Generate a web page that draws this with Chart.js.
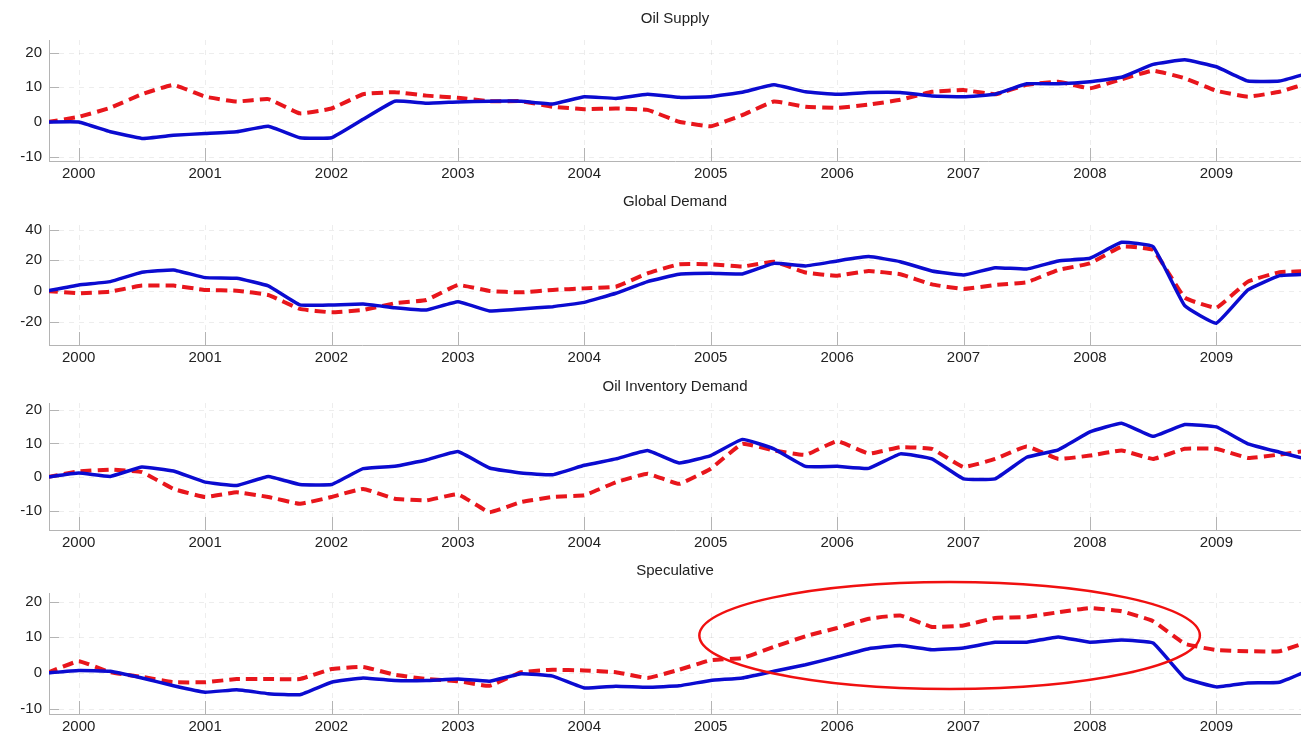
<!DOCTYPE html>
<html>
<head>
<meta charset="utf-8">
<script src="https://cdn.jsdelivr.net/npm/chart.js@4/dist/chart.umd.min.js"></script>
<style>
    body { margin: 0; background: #fff; }
    .panel { position: absolute; left: 0; width: 1301px; }
</style>
</head>
<body>
<div class="panel" style="top:0;height:185px"><canvas id="supplyChart"></canvas></div>
<div class="panel" style="top:185px;height:185px"><canvas id="demandChart"></canvas></div>
<div class="panel" style="top:370px;height:183px"><canvas id="inventoryChart"></canvas></div>
<div class="panel" style="top:553px;height:185px"><canvas id="speculativeChart"></canvas></div>
<script>
// quarterly dates, 1999Q4 .. 2009Q4
var quarters = [1999.75,
    2000, 2000.25, 2000.5, 2000.75, 2001, 2001.25, 2001.5, 2001.75,
    2002, 2002.25, 2002.5, 2002.75, 2003, 2003.25, 2003.5, 2003.75,
    2004, 2004.25, 2004.5, 2004.75, 2005, 2005.25, 2005.5, 2005.75,
    2006, 2006.25, 2006.5, 2006.75, 2007, 2007.25, 2007.5, 2007.75,
    2008, 2008.25, 2008.5, 2008.75, 2009, 2009.25, 2009.5, 2009.75]

var yearTicks = [2000, 2001, 2002, 2003, 2004, 2005, 2006, 2007, 2008, 2009]

// solid blue = actual, dashed red = model
var supplyActual = [0, 0, -2.8, -4.7, -3.8, -3.3, -2.8, -1.2, -4.5, -4.5, 0.8, 6, 5.4, 5.8, 6, 6, 5.2, 7.3, 6.8, 8, 7.1,
    7.3, 8.6, 10.7, 8.7, 8, 8.5, 8.5, 7.5, 7.3, 8, 11, 11, 11.6, 12.9, 16.6, 17.9, 15.9, 11.8, 11.8, 14.3]
var supplyModel = [0, 1.5, 4.1, 8, 10.7, 7.3, 5.9, 6.6, 2.5, 3.9, 8, 8.6, 7.6, 7, 6, 6, 4.4, 3.7, 3.9, 3.5, 0.1,
    -1.2, 2, 5.9, 4.4, 4.1, 5, 6.4, 8.7, 9.2, 8, 10.7, 11.6, 9.7, 12.3, 14.8, 12.6, 9, 7.3, 8.7, 11.5]

var demandActual = [0, 3.9, 6.1, 12.2, 13.7, 8.7, 8.3, 3.3, -9.1, -9.1, -8.5, -10.9, -12.4, -7, -13, -11.7, -10.2, -7.4, -1.5, 6.1, 10.9,
    11.5, 11.1, 18, 16.3, 19.6, 22.4, 19.1, 13, 10.4, 15.2, 14.3, 19.6, 21.3, 31.7, 28.9, -9.6, -21, 0.7, 10, 11]
var demandModel = [0, -1.5, -0.4, 3.5, 3.5, 0.7, 0.2, -2.6, -11.7, -13.9, -12.4, -8, -5.9, 3.9, 0, -0.9, 0.7, 1.7, 2.8, 11.5, 17.4,
    17.4, 15.9, 19.1, 12, 10, 13, 10.9, 4.3, 1.3, 3.9, 5.7, 13.7, 18, 28.9, 26.7, -4.3, -10.9, 6.1, 12.2, 13]

var inventoryActual = [0, 1.2, 0.2, 3, 1.8, -1.5, -2.5, 0.2, -2.2, -2.2, 2.5, 3.2, 5.1, 7.6, 2.7, 1.2, 0.7, 3.5, 5.4, 7.9, 4.2,
    6.4, 11.2, 8.4, 3.2, 3.2, 2.6, 6.9, 5.4, -0.5, -0.5, 5.9, 8.1, 13.4, 16, 12.1, 15.6, 14.9, 9.9, 7.4, 5]
var inventoryModel = [0, 1.7, 2.2, 1.5, -3.5, -5.9, -4.5, -5.9, -7.9, -5.9, -3.5, -6.4, -6.9, -5.1, -10.4, -7.4, -5.9, -5.4, -1.5, 1, -2,
    2.5, 9.9, 7.9, 6.6, 10.7, 7, 8.9, 8.4, 3, 5.4, 9.1, 5.4, 6.4, 7.9, 5.4, 8.4, 8.4, 5.7, 6.7, 8]

var speculativeActual = [0, 0.7, 0.5, -1.4, -3.6, -5.4, -4.7, -5.8, -6.1, -2.6, -1.4, -2.1, -2.1, -1.7, -2.3, -0.2, -0.9, -4.2, -3.7, -4, -3.6,
    -2.1, -1.4, 0.5, 2.3, 4.5, 6.8, 7.7, 6.5, 7, 8.6, 8.6, 10.1, 8.6, 9.2, 8.4, -1.4, -3.9, -2.8, -2.6, 1]
var speculativeModel = [0, 3.3, 0.2, -1.1, -2.6, -2.6, -1.7, -1.7, -1.7, 1.1, 1.7, -0.5, -1.7, -2.3, -3.6, 0.2, 0.9, 0.7, 0.2, -1.4, 0.9,
    3.6, 4.2, 7.3, 10.3, 12.6, 15.2, 16.1, 12.9, 13.3, 15.4, 15.7, 17, 18.2, 17.3, 14.5, 8.2, 6.4, 6.1, 6.1, 9]

// highlighted period on the speculative panel (centre and radii in data units)
var highlight = { x: 2006.89, y: 10.5, rx: 1.98, ry: 15 }

var FONT = { family: 'Arial, "Liberation Sans", sans-serif', size: 15 }

function toPoints(values) {
    return values.map(function (v, i) { return { x: quarters[i], y: v } })
}

// faint dotted grid plus short inward tick marks
var tickMarks = {
    id: 'tickMarks',
    beforeDatasetsDraw: function (chart) {
        var ctx = chart.ctx, area = chart.chartArea
        var xs = chart.scales.x, ys = chart.scales.y
        ctx.save()
        ctx.strokeStyle = 'rgba(0,0,0,0.07)'
        ctx.lineWidth = 1
        ctx.setLineDash([5, 5])
        ys.ticks.forEach(function (t) {
            var y = Math.round(ys.getPixelForValue(t.value)) + 0.5
            ctx.beginPath(); ctx.moveTo(area.left, y); ctx.lineTo(area.right, y); ctx.stroke()
        })
        xs.ticks.forEach(function (t) {
            var x = Math.round(xs.getPixelForValue(t.value)) + 0.5
            ctx.beginPath(); ctx.moveTo(x, area.top); ctx.lineTo(x, area.bottom); ctx.stroke()
        })
        ctx.setLineDash([])
        ctx.strokeStyle = '#b4b4b4'
        ys.ticks.forEach(function (t) {
            var y = Math.round(ys.getPixelForValue(t.value)) + 0.5
            ctx.beginPath(); ctx.moveTo(area.left, y); ctx.lineTo(area.left + 10, y); ctx.stroke()
        })
        xs.ticks.forEach(function (t) {
            var x = Math.round(xs.getPixelForValue(t.value)) + 0.5
            ctx.beginPath(); ctx.moveTo(x, area.bottom); ctx.lineTo(x, area.bottom - 13); ctx.stroke()
        })
        ctx.restore()
    }
}

var ellipseMark = {
    id: 'ellipseMark',
    afterDatasetsDraw: function (chart) {
        var ctx = chart.ctx
        var xs = chart.scales.x, ys = chart.scales.y
        var cx = xs.getPixelForValue(highlight.x)
        var cy = ys.getPixelForValue(highlight.y)
        var rx = xs.getPixelForValue(highlight.x + highlight.rx) - cx
        var ry = cy - ys.getPixelForValue(highlight.y + highlight.ry)
        ctx.save()
        ctx.strokeStyle = '#f01010'
        ctx.lineWidth = 2.5
        ctx.beginPath()
        ctx.ellipse(cx, cy, rx, ry, 0, 0, Math.PI * 2)
        ctx.stroke()
        ctx.restore()
    }
}

function makePanel(id, title, actual, model, yMin, yMax, yStep, titlePad, xHeight, extra) {
    var ctx = document.getElementById(id).getContext('2d')
    return new Chart(ctx, {
        type: 'line',
        data: {
            datasets: [{
                label: 'Actual',
                data: toPoints(actual),
                borderColor: '#0b0bd0',
                borderWidth: 3.5,
                pointRadius: 0,
                tension: 0.1
            }, {
                label: 'Model',
                data: toPoints(model),
                borderColor: '#e8161c',
                borderWidth: 4,
                borderDash: [11, 6],
                pointRadius: 0,
                tension: 0.1
            }]
        },
        options: {
            responsive: true,
            maintainAspectRatio: false,
            animation: false,
            layout: { padding: 0 },
            plugins: {
                legend: { display: false },
                tooltip: { enabled: false },
                title: {
                    display: true,
                    text: title,
                    fullSize: false,
                    color: '#222',
                    font: { family: FONT.family, size: FONT.size, weight: 'normal' },
                    padding: titlePad
                }
            },
            scales: {
                x: {
                    type: 'linear',
                    min: 1999.765,
                    max: 2009.67,
                    afterBuildTicks: function (s) { s.ticks = yearTicks.map(function (v) { return { value: v } }) },
                    afterFit: function (s) { s.height = xHeight },
                    grid: { display: false, drawTicks: false, tickLength: 0 },
                    border: { display: true, color: '#b4b4b4', width: 1 },
                    ticks: {
                        color: '#222',
                        font: FONT,
                        padding: 4,
                        maxRotation: 0,
                        autoSkip: false,
                        callback: function (v) { return String(v) }
                    }
                },
                y: {
                    min: yMin,
                    max: yMax,
                    afterFit: function (s) { s.width = 49 },
                    grid: { display: false, drawTicks: false, tickLength: 0 },
                    border: { display: true, color: '#b4b4b4', width: 1 },
                    ticks: {
                        stepSize: yStep,
                        includeBounds: false,
                        color: '#222',
                        font: FONT,
                        padding: 7
                    }
                }
            }
        },
        plugins: [tickMarks].concat(extra || [])
    })
}

function initCharts() {
    makePanel('supplyChart', 'Oil Supply', supplyActual, supplyModel, -11.2, 23.6, 10, { top: 10, bottom: 12 }, 24)
    makePanel('demandChart', 'Global Demand', demandActual, demandModel, -35.2, 43, 20, { top: 8, bottom: 14 }, 25)
    makePanel('inventoryChart', 'Oil Inventory Demand', inventoryActual, inventoryModel, -15.7, 22, 10, { top: 8, bottom: 7 }, 23)
    makePanel('speculativeChart', 'Speculative', speculativeActual, speculativeModel, -11.5, 22.4, 10, { top: 9, bottom: 13 }, 24, [ellipseMark])
}

document.addEventListener('DOMContentLoaded', initCharts)
</script>
</body>
</html>
